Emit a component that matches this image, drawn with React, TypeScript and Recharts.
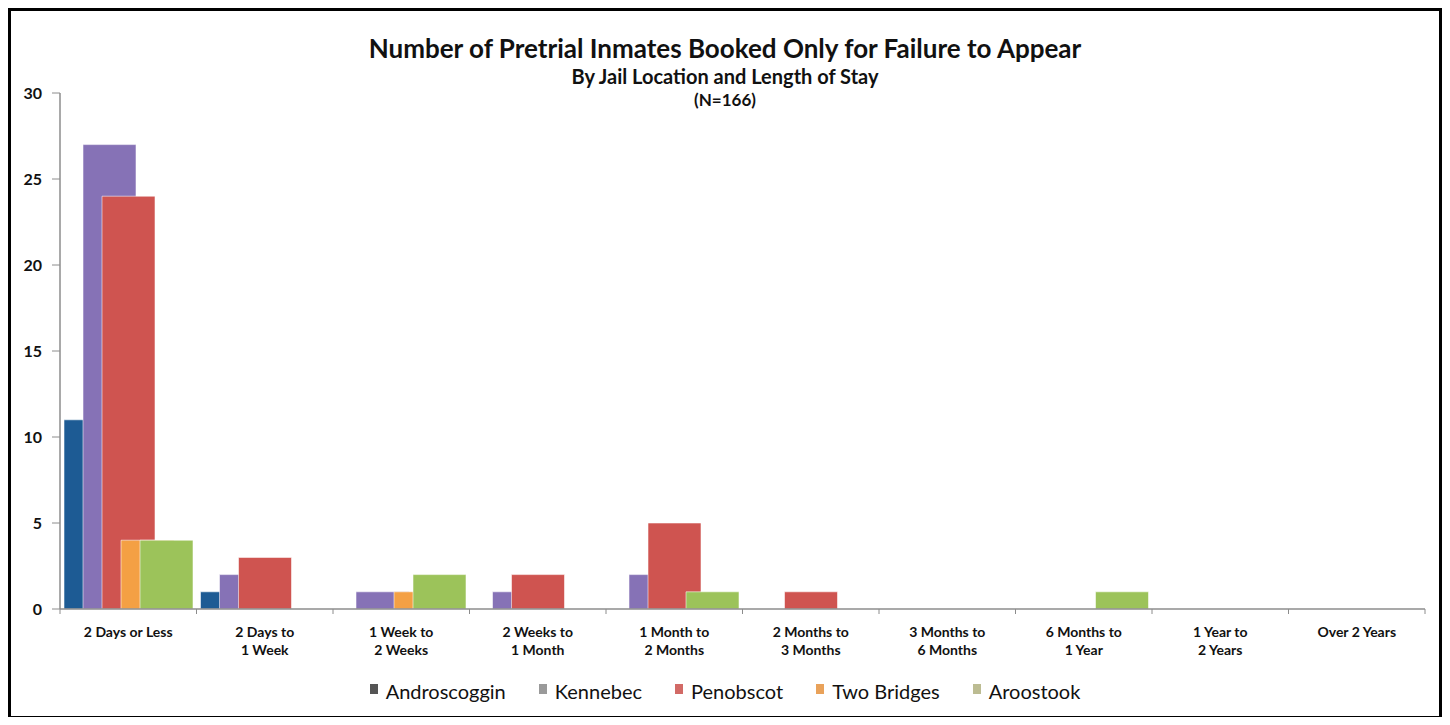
import React from "react";
import { Bar, BarChart, XAxis, YAxis } from "recharts";

const categories = [
  ["2 Days or Less"],
  ["2 Days to", "1 Week"],
  ["1 Week to", "2 Weeks"],
  ["2 Weeks to", "1 Month"],
  ["1 Month to", "2 Months"],
  ["2 Months to", "3 Months"],
  ["3 Months to", "6 Months"],
  ["6 Months to", "1 Year"],
  ["1 Year to", "2 Years"],
  ["Over 2 Years"],
];

const androscoggin = [11, 1, 0, 0, 0, 0, 0, 0, 0, 0];
const kennebec = [27, 2, 1, 1, 2, 0, 0, 0, 0, 0];
const penobscot = [24, 3, 0, 2, 5, 1, 0, 0, 0, 0];
const twoBridges = [4, 0, 1, 0, 0, 0, 0, 0, 0, 0];
const aroostook = [4, 0, 2, 0, 1, 0, 0, 1, 0, 0];

const yTicks = [0, 5, 10, 15, 20, 25, 30];

const series = [
  { key: "Androscoggin", values: androscoggin, color: "#1d5b94", marker: "#555555" },
  { key: "Kennebec", values: kennebec, color: "#8672b6", marker: "#9a9a9a" },
  { key: "Penobscot", values: penobscot, color: "#cf5450", marker: "#d26a66" },
  { key: "Two Bridges", values: twoBridges, color: "#f4a044", marker: "#e9a25a" },
  { key: "Aroostook", values: aroostook, color: "#9cc35a", marker: "#bcbc92" },
];

const data = categories.map((lines, i) => {
  const row: Record<string, string | number> = { name: lines.join(" ") };
  for (const s of series) row[s.key] = s.values[i];
  return row;
});

const font = "Lato, 'Open Sans', sans-serif";
const axisColor = "#8c8c8c";

const plotLeft = 60;
const plotRight = 25;
const bandHalf = (1450 - plotLeft - plotRight) / categories.length / 2;

function CategoryTick(props: any) {
  const { x, y, index } = props;
  const lines = categories[index] ?? [];
  return (
    <g>
      <line x1={x - bandHalf} x2={x - bandHalf} y1={y - 8} y2={y - 3} stroke={axisColor} />
      {index === categories.length - 1 && (
        <line x1={x + bandHalf} x2={x + bandHalf} y1={y - 8} y2={y - 3} stroke={axisColor} />
      )}
      <text x={x} y={y + 20} textAnchor="middle" fontFamily={font} fontWeight={700} fontSize={14} fill="#111">
        {lines.map((line, i) => (
          <tspan key={line} x={x} dy={i === 0 ? 0 : 18}>
            {line}
          </tspan>
        ))}
      </text>
    </g>
  );
}

export default function App() {
  return (
    <div style={{ position: "relative", width: 1450, height: 725, margin: -8, background: "#fff", overflow: "hidden" }}>
      <div style={{ position: "absolute", top: 33, width: 1450, textAlign: "center", fontFamily: font, fontWeight: 700, color: "#111" }}>
        <div style={{ fontSize: 26, lineHeight: "30px" }}>Number of Pretrial Inmates Booked Only for Failure to Appear</div>
        <div style={{ fontSize: 20, lineHeight: "26px" }}>By Jail Location and Length of Stay</div>
        <div style={{ fontSize: 17, lineHeight: "22px" }}>(N=166)</div>
      </div>
      <BarChart
        width={1450}
        height={725}
        data={data}
        margin={{ top: 93, right: plotRight, bottom: 56, left: 10 }}
        barSize={53}
        barGap={-34}
        barCategoryGap={0}
      >
        <XAxis
          dataKey="name"
          interval={0}
          tickLine={false}
          axisLine={{ stroke: axisColor, strokeWidth: 1.5 }}
          tick={<CategoryTick />}
          height={60}
        />
        <YAxis
          width={50}
          domain={[0, 30]}
          ticks={yTicks}
          tickSize={8}
          tickMargin={10}
          tickLine={{ stroke: axisColor }}
          axisLine={{ stroke: axisColor, strokeWidth: 1.5 }}
          tick={{ fontFamily: font, fontWeight: 700, fontSize: 16, fill: "#111" }}
        />
        {series.map((s) => (
          <Bar
            key={s.key}
            dataKey={s.key}
            fill={s.color}
            stroke="#ffffff"
            strokeOpacity={0.55}
            strokeWidth={1}
            isAnimationActive={false}
          />
        ))}
      </BarChart>
      <div
        style={{
          position: "absolute",
          top: 679,
          left: 0,
          width: 1450,
          display: "flex",
          justifyContent: "center",
          gap: 33,
          fontFamily: font,
          fontSize: 20,
          color: "#111",
        }}
      >
        {series.map((s) => (
          <div key={s.key} style={{ display: "flex", alignItems: "center" }}>
            <span style={{ display: "inline-block", width: 8, height: 10, background: s.marker, marginRight: 8, marginTop: -4 }} />
            <span>{s.key}</span>
          </div>
        ))}
      </div>
      <div style={{ position: "absolute", left: 8, top: 8, width: 3, height: 711, background: "#000", zIndex: 5 }} />
      <div style={{ position: "absolute", left: 1439, top: 8, width: 3, height: 711, background: "#000", zIndex: 5 }} />
      <div style={{ position: "absolute", left: 3, top: 8, width: 1443, height: 3, background: "#000", zIndex: 5 }} />
      <div style={{ position: "absolute", left: 3, top: 716, width: 1443, height: 3, background: "#000", zIndex: 5 }} />
    </div>
  );
}
